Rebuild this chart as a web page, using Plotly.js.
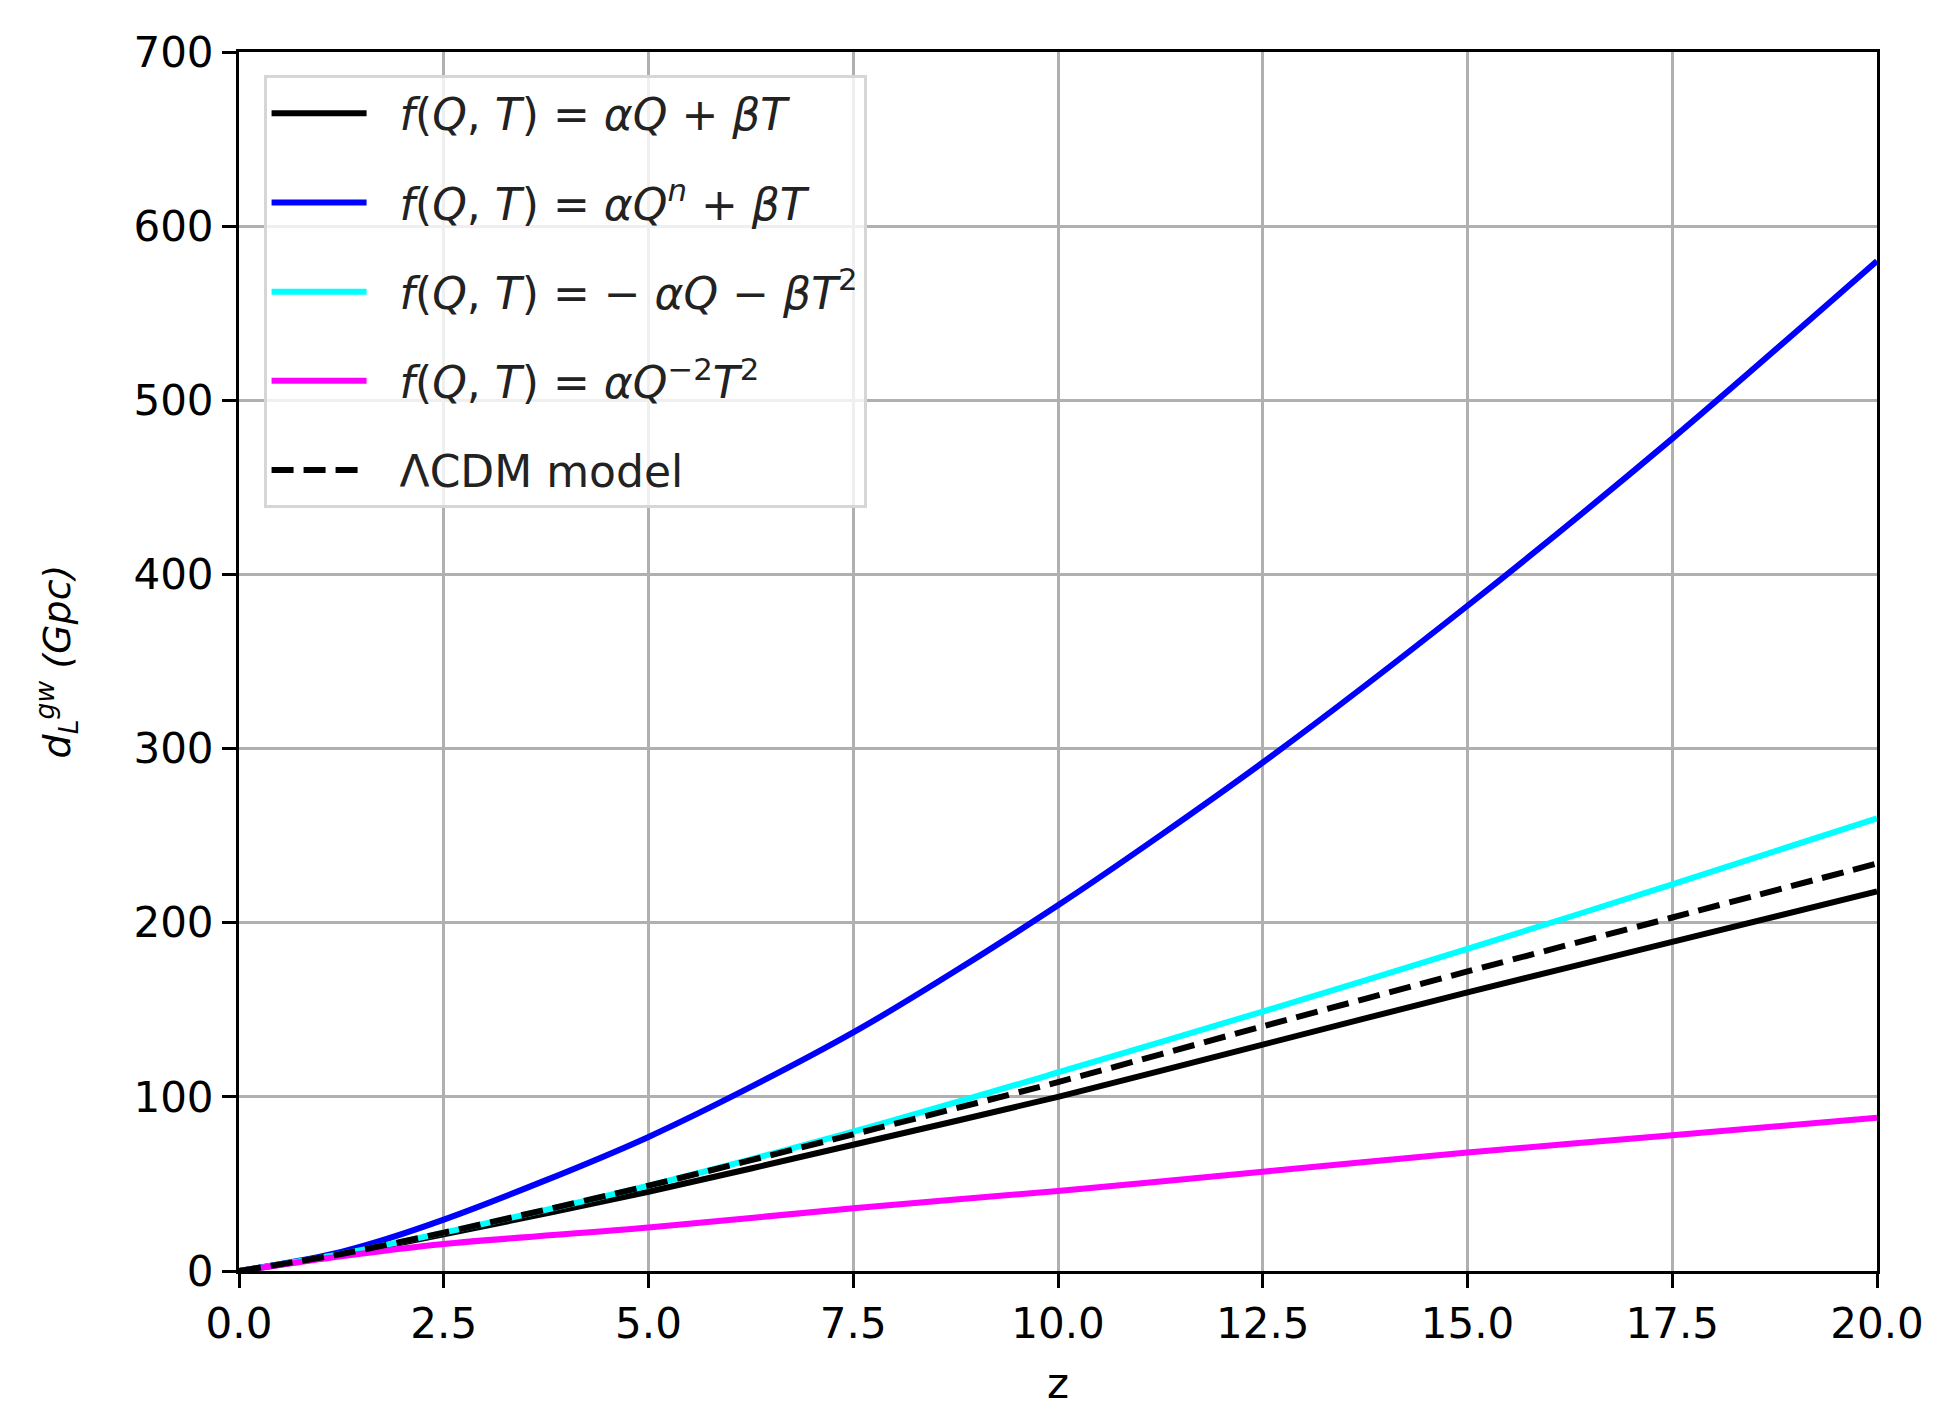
<!DOCTYPE html>
<html>
<head>
<meta charset="utf-8">
<script src="https://cdn.plot.ly/plotly-3.0.1.min.js"></script>
<style>
  body { margin: 0; background: #ffffff; }
  #chart { width: 1949px; height: 1426px; }
</style>
</head>
<body>
<div id="chart"></div>
<script>
// redshift samples
var z = [0, 1.25, 2.5, 5, 7.5, 10, 12.5, 15, 17.5, 20];

// d_L^gw (Gpc) for each model
var linearModel = [0, 9.5, 21, 45.5, 72.5, 100, 130, 160, 189, 218];
var powerModel = [0, 11, 29.5, 77, 137, 210, 292, 382, 478, 580];
var quadModel = [0, 9.8, 22, 49, 80, 114, 149, 185, 222, 260];
var inverseModel = [0, 8.5, 15.5, 25, 36, 46, 57, 68, 78, 88];
var lcdm = [0, 9.8, 22, 49, 78.5, 108.5, 140.5, 172, 203, 234];

// leading nbsp keeps a gap between the legend line and the label
var pad = "\u00a0\u00a0";
var names = [
	pad + "<i>f</i>(<i>Q</i>, <i>T</i>) = <i>αQ</i> + <i>βT</i>",
	pad + "<i>f</i>(<i>Q</i>, <i>T</i>) = <i>αQ<sup>n</sup></i> + <i>βT</i>",
	pad + "<i>f</i>(<i>Q</i>, <i>T</i>) = − <i>αQ</i> − <i>βT</i><sup>2</sup>",
	pad + "<i>f</i>(<i>Q</i>, <i>T</i>) = <i>αQ</i><sup>−2</sup><i>T</i><sup>2</sup>",
	pad + "ΛCDM model"
];
var series = [linearModel, powerModel, quadModel, inverseModel, lcdm];
var colors = ["#000000", "#0000ff", "#00ffff", "#ff00ff", "#000000"];
var dashes = ["solid", "solid", "solid", "solid", "22px,10px"];

var data = [];
for (let i = 0; i < series.length; i++)
{
	data.push({
		x: z,
		y: series[i],
		name: names[i],
		legendgroup: "g" + i,
		type: "scatter",
		mode: "lines",
		line: { color: colors[i], width: 6, dash: dashes[i], shape: "spline", smoothing: 0.8 }
	});
}

var tickFont = { family: "DejaVu Sans", size: 42, color: "#000000" };

var layout = {
	width: 1949,
	height: 1426,
	margin: { l: 239, r: 72, t: 52, b: 155 },
	paper_bgcolor: "#ffffff",
	plot_bgcolor: "#ffffff",
	font: { family: "DejaVu Sans", size: 42, color: "#000000" },
	showlegend: true,
	legend: {
		x: 0.015, y: 0.981,
		xanchor: "left", yanchor: "top",
		bgcolor: "rgba(255,255,255,0.8)",
		bordercolor: "#d6d6d6",
		borderwidth: 3,
		tracegroupgap: 29,
		traceorder: "grouped",
		itemwidth: 95,
		font: { family: "DejaVu Sans", size: 44, color: "#222222" }
	},
	xaxis: {
		range: [0, 20],
		tick0: 0, dtick: 2.5,
		tickformat: ".1f",
		ticks: "outside", ticklen: 14, tickwidth: 3, tickcolor: "#000000",
		showline: true, linecolor: "#000000", linewidth: 3, mirror: true,
		showgrid: true, gridcolor: "#b0b0b0", gridwidth: 3,
		zeroline: false,
		tickfont: tickFont,
		title: { text: "z", font: { family: "DejaVu Sans", size: 42 }, standoff: 22 }
	},
	yaxis: {
		range: [0, 700],
		tick0: 0, dtick: 100,
		ticks: "outside", ticklen: 14, tickwidth: 3, tickcolor: "#000000",
		showline: true, linecolor: "#000000", linewidth: 3, mirror: true,
		showgrid: true, gridcolor: "#b0b0b0", gridwidth: 3,
		zeroline: false,
		tickfont: tickFont,
		title: {
			text: "<i>d</i><sub><i>L</i></sub><sup><i>gw</i></sup> <i>(Gpc)</i>",
			font: { family: "DejaVu Sans", size: 38 },
			standoff: 52
		}
	}
};

Plotly.newPlot("chart", data, layout, { displayModeBar: false, staticPlot: true });
</script>
</body>
</html>
